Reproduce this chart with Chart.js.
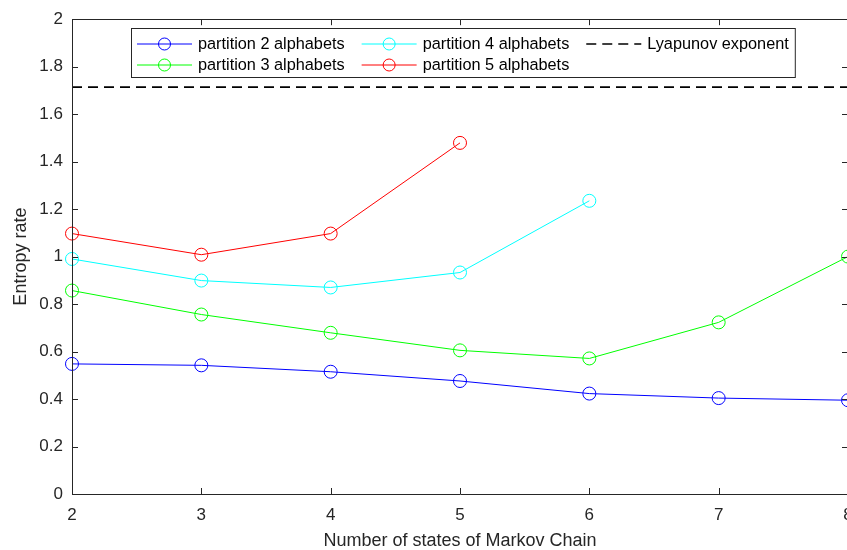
<!DOCTYPE html>
<html>
<head>
<meta charset="utf-8">
<script src="https://cdn.jsdelivr.net/npm/chart.js@4"></script>
<style>
  body { margin: 0; background: #fff; }
  #wrap { width: 847px; height: 550px; overflow: hidden; }
  #inner { width: 880px; height: 550px; }
</style>
</head>
<body>
<div id="wrap"><div id="inner"><canvas id="c"></canvas></div></div>
<script>
// values
let states = [2, 3, 4, 5, 6, 7, 8];
let part2 = [0.548, 0.542, 0.515, 0.476, 0.423, 0.404, 0.395];
let part3 = [0.857, 0.756, 0.679, 0.605, 0.571, 0.723, 1.0];
let part4 = [0.990, 0.899, 0.870, 0.933, 1.235];
let part5 = [1.097, 1.008, 1.097, 1.479];
let lyapunov = 1.714;
let yTicks = [0, 0.2, 0.4, 0.6, 0.8, 1, 1.2, 1.4, 1.6, 1.8, 2];

const axisColor = "#262626";
const fontFam = "'Liberation Sans', Arial, sans-serif";

function pts(vals) {
    return vals.map((v, i) => ({ x: states[i], y: v }));
}

function series(label, vals, color) {
    return {
        label: label,
        data: pts(vals),
        borderColor: color,
        backgroundColor: "transparent",
        borderWidth: 1,
        pointStyle: "circle",
        pointRadius: 6.5,
        pointBorderWidth: 1,
        pointBorderColor: color,
        pointBackgroundColor: "transparent",
        clip: false,
        legendCol: 0, legendRow: 0
    };
}

let ds2 = series("partition 2 alphabets", part2, "#0000ff");
let ds3 = series("partition 3 alphabets", part3, "#00ff00");
let ds4 = series("partition 4 alphabets", part4, "#00ffff");
let ds5 = series("partition 5 alphabets", part5, "#ff0000");
ds3.legendRow = 1;
ds4.legendCol = 1;
ds5.legendCol = 1; ds5.legendRow = 1;

let dsLy = {
    label: "Lyapunov exponent",
    data: [{ x: states[0], y: lyapunov }, { x: states[states.length - 1], y: lyapunov }],
    borderColor: "#000",
    borderWidth: 1.6,
    borderDash: [10, 6],
    pointRadius: 0,
    clip: false,
    legendCol: 2, legendRow: 0
};

// box, inward ticks and MATLAB-like legend
const matlabAxes = {
    id: "matlabAxes",
    afterDatasetsDraw(chart) {
        let ctx = chart.ctx;
        let a = chart.chartArea;
        let xs = chart.scales.x, ys = chart.scales.y;
        let tl = 6;
        ctx.save();
        ctx.strokeStyle = axisColor;
        ctx.lineWidth = 1;
        ctx.beginPath();
        ctx.rect(Math.round(a.left) + 0.5, Math.round(a.top) + 0.5,
                 Math.round(a.right - a.left), Math.round(a.bottom - a.top));
        states.forEach(v => {
            let px = Math.round(xs.getPixelForValue(v)) + 0.5;
            ctx.moveTo(px, a.bottom); ctx.lineTo(px, a.bottom - tl);
            ctx.moveTo(px, a.top); ctx.lineTo(px, a.top + tl);
        });
        yTicks.forEach(v => {
            let py = Math.round(ys.getPixelForValue(v)) + 0.5;
            ctx.moveTo(a.left, py); ctx.lineTo(a.left + tl, py);
            ctx.moveTo(a.right, py); ctx.lineTo(a.right - tl, py);
        });
        ctx.stroke();

        // legend
        ctx.font = "16.3px " + fontFam;
        let dsets = chart.data.datasets;
        let lineLen = 55, gap = 6, colGap = 17, pad = 6;
        let colW = [0, 0, 0];
        dsets.forEach(d => {
            let w = lineLen + gap + ctx.measureText(d.label).width;
            colW[d.legendCol] = Math.max(colW[d.legendCol], w);
        });
        let bx = 131, by = 28, rowH = 21;
        let bw = pad * 2 + colW[0] + colW[1] + colW[2] + colGap * 2;
        let bh = 49;
        ctx.fillStyle = "#fff";
        ctx.fillRect(bx, by, bw, bh);
        ctx.strokeStyle = "#262626";
        ctx.strokeRect(bx + 0.5, by + 0.5, bw, bh);
        dsets.forEach(d => {
            let x0 = bx + pad;
            for (let c = 0; c < d.legendCol; c++) x0 += colW[c] + colGap;
            let cy = by + 16 + d.legendRow * rowH;
            ctx.strokeStyle = d.borderColor;
            ctx.lineWidth = d.borderWidth;
            ctx.setLineDash(d.borderDash || []);
            ctx.beginPath();
            ctx.moveTo(x0, cy); ctx.lineTo(x0 + lineLen, cy);
            ctx.stroke();
            ctx.setLineDash([]);
            if (d.pointRadius > 0) {
                ctx.lineWidth = 1;
                ctx.beginPath();
                ctx.arc(x0 + lineLen / 2, cy, 6, 0, Math.PI * 2);
                ctx.stroke();
            }
            ctx.fillStyle = "#000";
            ctx.textBaseline = "middle";
            ctx.fillText(d.label, x0 + lineLen + gap, cy + 1);
        });
        ctx.restore();
    }
};

new Chart(document.getElementById("c"), {
    type: "line",
    data: { datasets: [ds2, ds4, dsLy, ds3, ds5] },
    options: {
        responsive: true,
        maintainAspectRatio: false,
        animation: false,
        layout: { padding: { top: 18, right: 32, left: 0, bottom: 0 } },
        plugins: { legend: { display: false }, tooltip: { enabled: false } },
        scales: {
            x: {
                type: "linear",
                min: 2, max: 8,
                afterFit: s => { s.height = 56; },
                afterBuildTicks: s => { s.ticks = states.map(v => ({ value: v })); },
                grid: { display: false, drawTicks: false },
                border: { display: false },
                ticks: { color: axisColor, font: { family: fontFam, size: 17 }, padding: 11 },
                title: {
                    display: true, text: "Number of states of Markov Chain",
                    color: axisColor, font: { family: fontFam, size: 18 },
                    padding: { top: 0, bottom: -2 }
                }
            },
            y: {
                min: 0, max: 2,
                afterFit: s => { s.width = 72; },
                afterBuildTicks: s => { s.ticks = yTicks.map(v => ({ value: v })); },
                grid: { display: false, drawTicks: false },
                border: { display: false },
                ticks: {
                    color: axisColor, font: { family: fontFam, size: 17 }, padding: 9,
                    callback: v => String(Math.round(v * 10) / 10)
                },
                title: {
                    display: true, text: "Entropy rate",
                    color: axisColor, font: { family: fontFam, size: 18 },
                    padding: { top: 10, bottom: 0 }
                }
            }
        }
    },
    plugins: [matlabAxes]
});
</script>
</body>
</html>
